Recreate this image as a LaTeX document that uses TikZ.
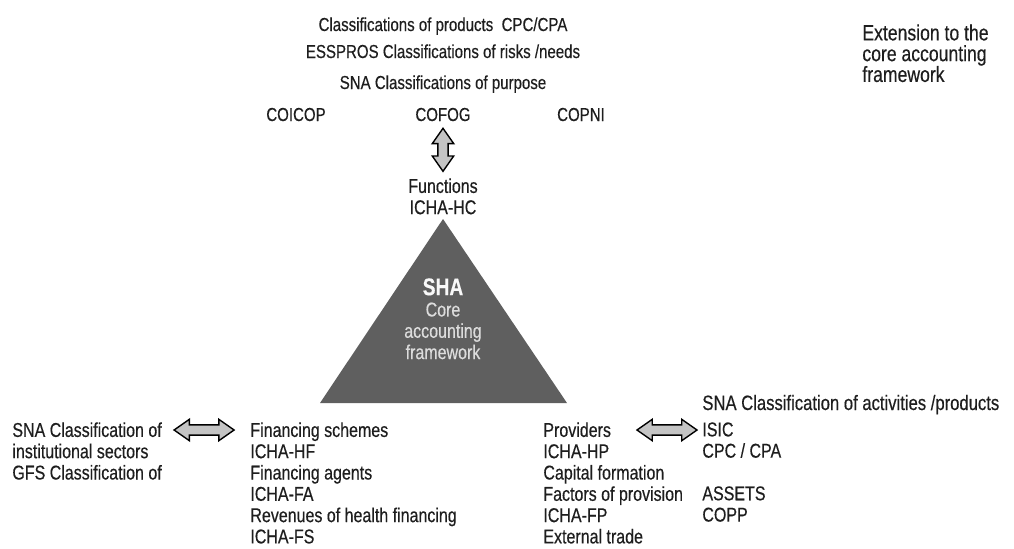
\documentclass[tikz,border=0pt]{standalone}
\usepackage{fontspec}
\setmainfont{Liberation Sans}[FakeStretch=0.8,FakeBold=0.4]
\usetikzlibrary{shapes.arrows,calc}
\definecolor{trigray}{HTML}{5F5F5F}
\definecolor{arrowgray}{HTML}{C4C4C4}
\definecolor{inktext}{HTML}{1E1E1E}
\definecolor{tritext}{HTML}{DCDCDC}
\begin{document}
\begin{tikzpicture}[x=0.5pt,y=-0.5pt,
    lbl/.style={inner sep=0pt,text=inktext,font=\fontsize{10}{10.65}\selectfont},
    toplbl/.style={lbl,anchor=base,font=\fontsize{9.4}{10}\selectfont},
    blk/.style={lbl,align=left,anchor=north west},
    blockarrow/.style={double arrow,draw=black,line width=0.7pt,fill=arrowgray,
        inner sep=0pt,inner ysep=2.2pt,minimum height=30pt,
        double arrow head extend=2.8pt,double arrow tip angle=70}]
    \useasboundingbox (0,0) rectangle (1014,548);
    % core triangle
    \coordinate (apex) at (443,219);
    \coordinate (baseL) at (320,403);
    \coordinate (baseR) at (567,403);
    \fill[trigray] (apex)--(baseL)--(baseR)--cycle;
    \node[lbl,text=tritext,align=center,anchor=north] (sha) at (443,278)
        {{\fontsize{12}{12}\selectfont\bfseries\color{white!95!gray}SHA}\\Core\\accounting\\framework};
    % classifications on top
    \node[toplbl] (prod) at (443,31) {Classifications of products\ \ CPC/CPA};
    \node[toplbl] (risk) at (443,58) {ESSPROS Classifications of risks /needs};
    \node[toplbl] (purp) at (443,89) {SNA Classifications of purpose};
    \node[toplbl] (coicop) at (296,121) {COICOP};
    \node[toplbl] (cofog) at (443,121) {COFOG};
    \node[toplbl] (copni) at (581,121) {COPNI};
    \node[lbl,align=center,anchor=north] (func) at (443,178) {Functions\\ICHA-HC};
    \node[blockarrow,rotate=90,minimum height=21.5pt] (arrV)
        at ($(cofog.south)!.5!(func.north)$) {};
    \node[blk,font=\fontsize{11}{10.4}\selectfont] (ext) at (862,24)
        {Extension to the\\core accounting\\framework};
    % bottom left
    \node[blk] (sect) at (12,422)
        {SNA Classification of\\institutional sectors\\GFS Classification of};
    \node[blk] (fin) at (250,422)
        {Financing schemes\\ICHA-HF\\Financing agents\\ICHA-FA\\Revenues of health financing\\ICHA-FS};
    \node[blockarrow] (arrL) at ($(sect.north east)!.5!(fin.north west)+(-2,8)$) {};
    % bottom right
    \node[blk] (prov) at (543,422)
        {Providers\\ICHA-HP\\Capital formation\\Factors of provision\\ICHA-FP\\External trade};
    \node[lbl,anchor=base west,font=\fontsize{10.4}{11}\selectfont] (act) at (702,410)
        {SNA Classification of activities /products};
    \node[blk] (isic) at (702,422) {ISIC\\CPC / CPA\\[10.65pt]ASSETS\\COPP};
    \node[blockarrow] (arrR) at ($(isic.north west)+(-35,8)$) {};
\end{tikzpicture}
\end{document}
